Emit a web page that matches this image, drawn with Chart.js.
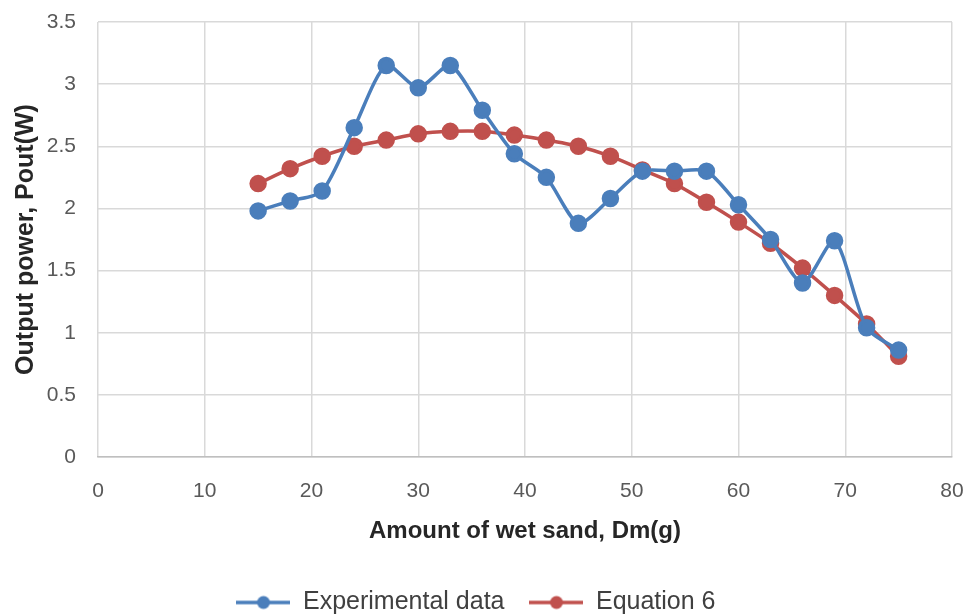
<!DOCTYPE html>
<html>
<head>
<meta charset="utf-8">
<script src="https://cdn.jsdelivr.net/npm/chart.js@4"></script>
<style>
  html, body { margin: 0; padding: 0; background: #fff; }
  #wrap { width: 978px; height: 616px; }
</style>
</head>
<body>
<div id="wrap"><canvas id="power" width="978" height="616"></canvas></div>
<script>
const sandMass = [15, 18, 21, 24, 27, 30, 33, 36, 39, 42, 45, 48, 51, 54, 57, 60, 63, 66, 69, 72, 75];
const experimental = [1.98, 2.06, 2.14, 2.65, 3.15, 2.97, 3.15, 2.79, 2.44, 2.25, 1.88, 2.08, 2.30, 2.30, 2.30, 2.03, 1.75, 1.40, 1.74, 1.04, 0.86];
const equation6 = [2.20, 2.32, 2.42, 2.50, 2.55, 2.60, 2.62, 2.62, 2.59, 2.55, 2.50, 2.42, 2.31, 2.20, 2.05, 1.89, 1.72, 1.52, 1.30, 1.07, 0.81];
const xTicks = [0, 10, 20, 30, 40, 50, 60, 70, 80];
const yTicks = [0, 0.5, 1, 1.5, 2, 2.5, 3, 3.5];

const blue = "#4a7ebb";
const red = "#c0504d";
const font = "'Liberation Sans', Arial, sans-serif";

// little line-with-dot marker for the legend
function legendMark(color) {
  const c = document.createElement("canvas");
  c.width = 54; c.height = 16;
  const g = c.getContext("2d");
  g.strokeStyle = color; g.lineWidth = 3.5;
  g.beginPath(); g.moveTo(0, 8); g.lineTo(54, 8); g.stroke();
  g.fillStyle = color;
  g.beginPath(); g.arc(27, 8, 6.5, 0, Math.PI * 2); g.fill();
  return c;
}

function pts(ys) {
  return sandMass.map((x, i) => ({ x: x, y: ys[i] }));
}

const ctx = document.getElementById("power").getContext("2d");

new Chart(ctx, {
  type: "line",
  data: {
    datasets: [
      {
        label: "Experimental data",
        data: pts(experimental),
        borderColor: blue,
        backgroundColor: blue,
        borderWidth: 3.5,
        pointRadius: 7,
        pointHoverRadius: 7,
        tension: 0.25,
      },
      {
        label: "Equation 6",
        data: pts(equation6),
        borderColor: red,
        backgroundColor: red,
        borderWidth: 3.5,
        pointRadius: 7,
        pointHoverRadius: 7,
        tension: 0.25,
      },
    ],
  },
  options: {
    responsive: false,
    animation: false,
    layout: { padding: { top: 22, right: 26, left: 0, bottom: -9 } },
    plugins: {
      tooltip: { enabled: false },
      legend: {
        position: "bottom",
        labels: {
          usePointStyle: true,
          pointStyleWidth: 54,
          color: "#404040",
          font: { family: font, size: 25 },
          padding: 25,
          generateLabels: (chart) =>
            chart.data.datasets.map((ds, i) => ({
              text: ds.label,
              fillStyle: ds.borderColor,
              strokeStyle: ds.borderColor,
              fontColor: "#404040",
              lineWidth: 0,
              pointStyle: legendMark(ds.borderColor),
              datasetIndex: i,
              hidden: false,
            })),
        },
      },
    },
    scales: {
      x: {
        type: "linear",
        min: 0,
        max: 80,
        afterBuildTicks: (s) => { s.ticks = xTicks.map((v) => ({ value: v })); },
        grid: {
          color: "#d9d9d9",
          lineWidth: 1.5,
          drawTicks: true,
          tickLength: 22,
          tickColor: "rgba(0,0,0,0)",
        },
        border: { color: "#bfbfbf", width: 1.5 },
        ticks: { color: "#595959", font: { family: font, size: 21 }, padding: 0 },
        title: {
          display: true,
          text: "Amount of wet sand, Dm(g)",
          color: "#262626",
          font: { family: font, size: 24, weight: "bold" },
          padding: { top: 0, bottom: 19 },
        },
        afterFit: (s) => { s.height = 108; },
      },
      y: {
        min: 0,
        max: 3.5,
        afterBuildTicks: (s) => { s.ticks = yTicks.map((v) => ({ value: v })); },
        grid: {
          color: "#d9d9d9",
          lineWidth: 1.5,
          drawTicks: true,
          tickLength: 22,
          tickColor: "rgba(0,0,0,0)",
        },
        border: { display: false },
        ticks: {
          color: "#595959",
          font: { family: font, size: 21 },
          padding: 0,
          callback: (v) => String(v),
        },
        title: {
          display: true,
          text: "Output power, Pout(W)",
          color: "#262626",
          font: { family: font, size: 25, weight: "bold" },
          padding: { top: 11, bottom: 0 },
        },
        afterFit: (s) => { s.width = 98; },
      },
    },
  },
});
</script>
</body>
</html>
